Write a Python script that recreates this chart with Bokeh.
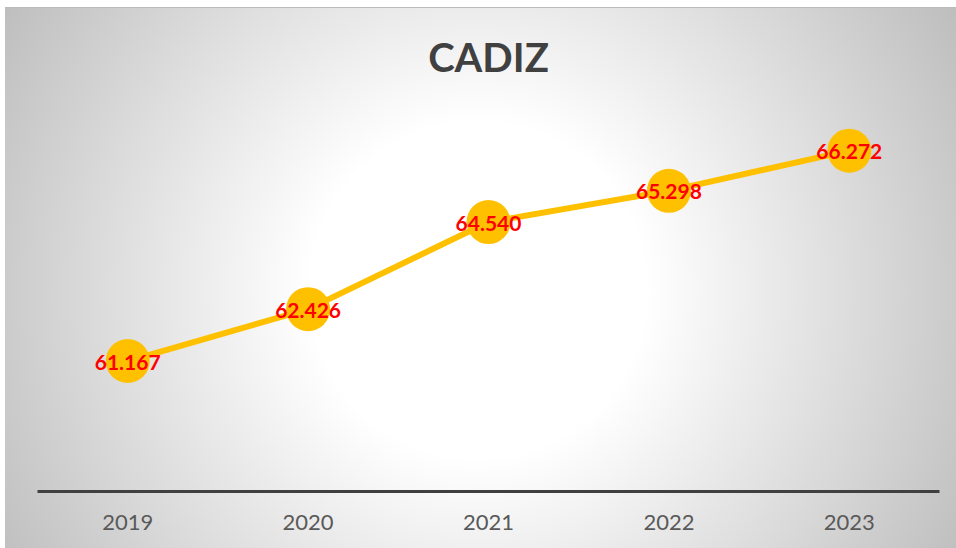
from bokeh.plotting import figure
from bokeh.models import ColumnDataSource, Range1d, FactorRange
from bokeh.core.properties import value
from bokeh.embed import file_html
from bokeh.resources import INLINE

years = ["2019", "2020", "2021", "2022", "2023"]
values = [61.167, 62.426, 64.540, 65.298, 66.272]
labels = ["61.167", "62.426", "64.540", "65.298", "66.272"]

src = ColumnDataSource(dict(x=years, y=values, lab=labels))

p = figure(width=956, height=548, output_backend="svg", toolbar_location=None,
           x_range=FactorRange(*years, range_padding=0), y_range=Range1d(58, 68),
           min_border_left=37, min_border_right=17, min_border_bottom=57, min_border_top=79)

p.styles = {
    "background": (
        "linear-gradient(#ffffff,#ffffff) left top / 100% 7px no-repeat, "
        "linear-gradient(#ffffff,#ffffff) left top / 5px 100% no-repeat, "
        "linear-gradient(#bcbcbc,#bcbcbc) left 7px / 100% 1px no-repeat, "
        "radial-gradient(circle farthest-corner at 50% 53%, #ffffff 0%, #ffffff 30%, #bdbdbd 100%)"
    )
}
p.border_fill_color = None
p.background_fill_color = None
p.outline_line_color = None

p.title.text = "CADIZ"
p.title.align = "center"
p.title.text_font = "Lato"
p.title.text_font_style = "bold"
p.title.text_font_size = "40px"
p.title.text_color = "#404040"
p.title.standoff = -2

p.line("x", "y", source=src, line_color="#FFC000", line_width=6)
p.scatter("x", "y", source=src, size=44, fill_color="#FFC000", line_color=None)
p.text("x", "y", text="lab", source=src, text_align="center", text_baseline="middle",
       text_font=value("Lato"), text_font_style="bold", text_font_size="21px",
       text_color="#FF0000", y_offset=1)

p.yaxis.visible = False
p.xgrid.visible = False
p.ygrid.visible = False
ax = p.xaxis[0]
ax.axis_line_color = "#404040"
ax.axis_line_width = 3
ax.major_tick_line_color = None
ax.minor_tick_line_color = None
ax.major_tick_out = 0
ax.major_tick_in = 0
ax.major_label_standoff = 23
ax.major_label_text_font = "Lato"
ax.major_label_text_font_size = "22px"
ax.major_label_text_color = "#595959"

open("out.html", "w").write(file_html(p, INLINE))
